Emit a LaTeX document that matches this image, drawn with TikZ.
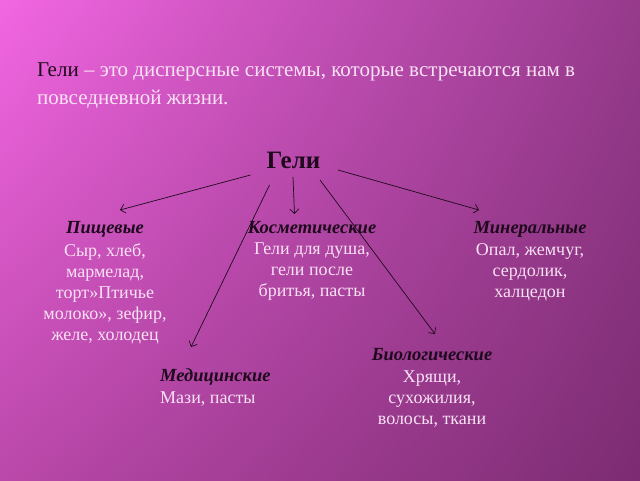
\documentclass[tikz,border=0pt]{standalone}
\usepackage{fontspec}
\setmainfont{Liberation Serif}
\usetikzlibrary{arrows.meta,shadings}
\definecolor{bgTL}{RGB}{242,102,226}
\definecolor{bgTR}{RGB}{150,58,140}
\definecolor{bgBL}{RGB}{186,72,170}
\definecolor{bgBR}{RGB}{124,44,114}
\definecolor{darktxt}{RGB}{30,10,28}
\definecolor{lighttxt}{RGB}{248,226,244}
\tikzset{
  cattitle/.style={inner sep=0pt, font=\fontsize{18.5}{21}\selectfont\bfseries\itshape, text=darktxt},
  catbody/.style={inner sep=0pt, font=\fontsize{18}{21}\selectfont, text=lighttxt, align=center},
  conn/.style={draw=darktxt, line width=0.7pt, -{Straight Barb[length=4.5pt,width=9pt]}}
}
\begin{document}
\begin{tikzpicture}[x=1pt,y=1pt]
\shade[upper left=bgTL, upper right=bgTR, lower left=bgBL, lower right=bgBR] (0,0) rectangle (640,480);
\useasboundingbox (0,0) rectangle (640,480);
% intro text
\node[inner sep=0pt, anchor=base west, align=left, text=lighttxt,
      font=\fontsize{21}{28}\selectfont] (intro) at (37,375)
  {{\color{darktxt}Гели} – это дисперсные системы, которые встречаются нам в\\повседневной жизни.};
% main title
\node[inner sep=0pt, anchor=base, text=darktxt, font=\fontsize{25}{30}\selectfont\bfseries] (geli) at (293.5,311) {Гели};
% categories
\node[cattitle, anchor=base] (pt) at (105,246) {Пищевые};
\node[catbody, anchor=north] (pb) at (105,237) {Сыр, хлеб,\\мармелад,\\торт»Птичье\\молоко», зефир,\\желе, холодец};
\node[cattitle, anchor=base] (kt) at (312,246) {Косметические};
\node[catbody, anchor=north] (kb) at (312,237) {Гели для душа,\\гели после\\бритья, пасты};
\node[cattitle, anchor=base] (mt) at (530,246) {Минеральные};
\node[catbody, anchor=north] (mb) at (530,237) {Опал, жемчуг,\\сердолик,\\халцедон};
\node[cattitle, anchor=base west] (medt) at (160,99) {Медицинские};
\node[catbody, anchor=base west] (medb) at (160,77) {Мази, пасты};
\node[cattitle, anchor=base] (bt) at (432,120) {Биологические};
\node[catbody, anchor=north] (bb) at (432,109) {Хрящи,\\сухожилия,\\волосы, ткани};
% connector ends
\coordinate (s1) at (250.5,305);
\coordinate (e1) at (120,270);
\coordinate (s2) at (293,303);
\coordinate (e2) at (294.5,266);
\coordinate (s3) at (338,310);
\coordinate (e3) at (479,270);
\coordinate (s4) at (269.5,295);
\coordinate (e4) at (191,133);
\coordinate (s5) at (320,300);
\coordinate (e5) at (435,146);
\draw[conn] (s1) -- (e1);
\draw[conn] (s2) -- (e2);
\draw[conn] (s3) -- (e3);
\draw[conn] (s4) -- (e4);
\draw[conn] (s5) -- (e5);
\end{tikzpicture}
\end{document}
